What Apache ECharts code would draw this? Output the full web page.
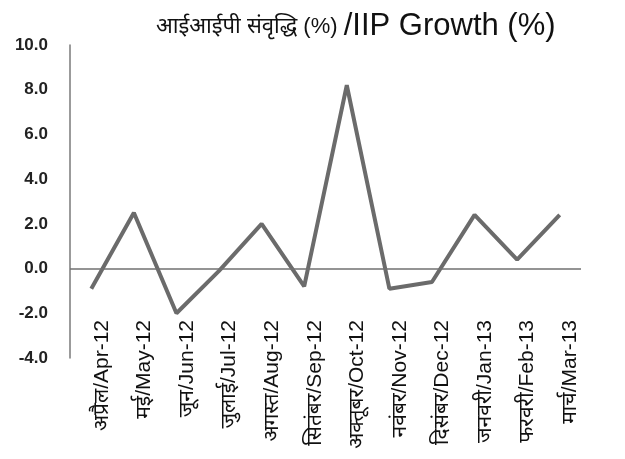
<!DOCTYPE html>
<html>
<head>
<meta charset="utf-8">
<script src="https://cdn.jsdelivr.net/npm/echarts@6/dist/echarts.min.js"></script>
<style>
  html, body { margin: 0; padding: 0; background: #fff; }
  #chart { width: 625px; height: 459px; }
</style>
</head>
<body>
<div id="chart"></div>
<script>
const months = [
  'अप्रैल/Apr-12', 'मई/May-12', 'जून/Jun-12', 'जुलाई/Jul-12',
  'अगस्त/Aug-12', 'सितंबर/Sep-12', 'अक्तूबर/Oct-12', 'नवंबर/Nov-12',
  'दिसंबर/Dec-12', 'जनवरी/Jan-13', 'फरवरी/Feb-13', 'मार्च/Mar-13'
]
const growth = [-0.9, 2.5, -2.0, -0.1, 2.0, -0.8, 8.2, -0.9, -0.6, 2.4, 0.4, 2.4]
const yTicks = { min: -4, max: 10, step: 2 }

const font = "'Liberation Sans', Arial, 'Noto Sans', sans-serif"

const chart = echarts.init(document.getElementById('chart'))

chart.setOption({
  animation: false,
  title: {
    text: '{hi|आईआईपी संवृद्धि (%) }{en|/IIP Growth (%)}',
    left: 156,
    top: 11,
    padding: 0,
    textStyle: {
      rich: {
        hi: { fontSize: 22, color: '#111', fontFamily: font, fontWeight: 'normal' },
        en: { fontSize: 31, color: '#111', fontFamily: font, fontWeight: 'normal' },
      },
    },
  },
  grid: {
    left: 70,
    right: 44,
    top: 45,
    bottom: 101,
  },
  xAxis: {
    type: 'category',
    data: months,
    axisLine: { show: false, onZero: false },
    axisTick: { show: false },
    axisLabel: {
      rotate: 90,
      margin: -38,
      interval: 0,
      fontSize: 21,
      lineHeight: 21,
      verticalAlign: 'top',
      color: '#111',
      fontFamily: font,
    },
  },
  yAxis: {
    type: 'value',
    min: yTicks.min,
    max: yTicks.max,
    interval: yTicks.step,
    axisLine: { show: true, lineStyle: { color: '#7a7a7a', width: 1.5 } },
    axisTick: { show: false },
    splitLine: { show: false },
    axisLabel: {
      margin: 22,
      fontSize: 17,
      fontWeight: 'bold',
      color: '#222',
      fontFamily: font,
      formatter: (v) => v.toFixed(1),
    },
  },
  series: [
    {
      type: 'line',
      data: growth,
      symbol: 'none',
      lineStyle: { color: '#6b6b6b', width: 4 },
      markLine: {
        silent: true,
        symbol: 'none',
        label: { show: false },
        lineStyle: { color: '#707070', width: 1.5, type: 'solid' },
        data: [{ yAxis: 0 }],
      },
    },
  ],
})
</script>
</body>
</html>
